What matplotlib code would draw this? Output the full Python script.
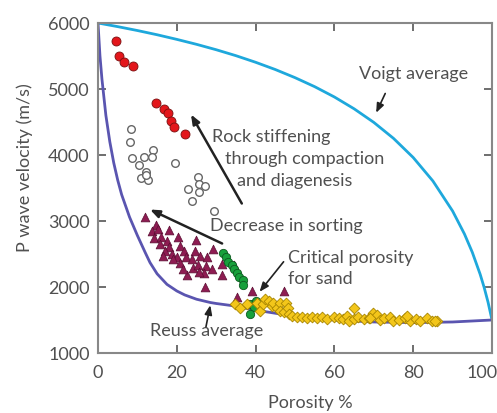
import matplotlib
matplotlib.use("Agg")
import matplotlib.pyplot as plt
from matplotlib.transforms import ScaledTranslation

plt.rcParams['font.family'] = ['Lato', 'DejaVu Sans']

# ---------------- data ----------------
voigt_phi = [0, 5, 10, 15, 20, 25, 30, 35, 40, 45, 50, 55, 60, 65, 70, 75, 80, 85, 90, 93, 95, 97, 98, 99, 100]
voigt_v = [6000, 5945, 5886, 5822, 5752, 5677, 5595, 5505, 5405, 5295, 5172, 5035, 4879, 4700, 4494,
           4252, 3962, 3606, 3151, 2804, 2526, 2192, 1995, 1769, 1500]

reuss_phi = [0, 0.5, 1, 2, 3, 4, 5, 6, 7, 8, 10, 12, 13.2, 15, 17.5, 20, 22, 25, 28.5, 30, 34,
             40, 50, 60, 70, 80, 90, 100]
reuss_v = [6000, 5500, 5150, 4600, 4200, 3880, 3620, 3400, 3230, 3060, 2780, 2520, 2370, 2200,
           2040, 1940, 1880, 1815, 1765, 1750, 1718, 1650, 1555, 1500, 1470, 1460, 1470, 1500]

red_phi = [4.5, 5.3, 6.6, 9.0, 14.7, 16.7, 17.8, 18.6, 19.3, 22.0]
red_v = [5727, 5495, 5409, 5344, 4788, 4697, 4632, 4515, 4420, 4323]

open_phi = [8.4, 8.1, 8.7, 10.4, 11.8, 13.9, 13.8, 12.1, 10.9, 12.8, 12.3, 19.6,
            25.5, 25.7, 27.2, 22.9, 25.7, 23.8, 29.5]
open_v = [4398, 4197, 3950, 3844, 3970, 4080, 3970, 3738, 3656, 3617, 3690, 3883,
          3662, 3561, 3526, 3485, 3435, 3308, 3156]

tri_phi = [11.9, 14.7, 13.6, 15.3, 17.9, 14.1, 15.9, 17.6, 20.4, 24.9, 29.3, 15.8, 18.1, 17.0,
           18.7, 20.8, 21.9, 22.4, 20.0, 20.8, 24.7, 25.9, 23.8, 24.2, 25.5, 27.4, 26.8, 22.7,
           28.9, 31.4, 31.4, 27.2, 34.4, 35.2, 39.1, 47.1, 16.6, 19.1, 21.5, 27.6, 25.7]
tri_v = [3064, 2942, 2852, 2876, 2861, 2750, 2761, 2700, 2761, 2709, 2583, 2648, 2609, 2548,
         2497, 2624, 2548, 2447, 2447, 2371, 2548, 2473, 2421, 2295, 2336, 2321, 2205, 2185,
         2270, 2345, 2185, 2003, 2330, 1852, 1942, 1942, 2473, 2421, 2270, 2447, 2220]

green_phi = [31.8, 32.5, 33.1, 34.0, 34.4, 35.2, 35.9, 36.7, 36.9, 38.6, 39.5, 38.5, 40.2]
green_v = [2508, 2447, 2386, 2336, 2270, 2205, 2155, 2103, 2033, 1750, 1690, 1590, 1790]

dia_phi = [34.8, 36.1, 37.8, 40.3, 41.2, 42.0, 42.4, 43.3, 44.1, 44.5, 45.4, 46.3, 46.3, 47.1,
           47.8, 48.1, 48.4, 49.2, 50.5, 51.8, 53.0, 54.3, 55.5, 56.8, 58.1, 59.8, 61.1, 62.3,
           63.2, 63.6, 64.9, 65.1, 66.1, 67.4, 68.7, 69.8, 70.8, 71.7, 72.7, 74.0, 75.0, 76.3,
           78.0, 79.3, 80.6, 81.8, 83.5, 84.8, 86.1, 69.1, 78.4, 85.6]
dia_v = [1739, 1689, 1739, 1765, 1639, 1739, 1815, 1791, 1715, 1765, 1689, 1765, 1639, 1614,
         1765, 1689, 1588, 1564, 1538, 1548, 1527, 1548, 1527, 1538, 1512, 1538, 1527, 1512,
         1564, 1488, 1679, 1512, 1548, 1512, 1523, 1606, 1576, 1505, 1526, 1541, 1490, 1505,
         1526, 1490, 1515, 1490, 1526, 1490, 1490, 1523, 1563, 1480]

x_ticks = [0, 20, 40, 60, 80, 100]
y_ticks = [1000, 2000, 3000, 4000, 5000, 6000]

# ---------------- figure ----------------
fig = plt.figure(figsize=(4.97, 4.14), dpi=100)
ax = fig.add_axes([98/497, 1-354/414, 394/497, 330/414])

TXT = '#505050'
FS = 13

ax.plot(voigt_phi, voigt_v, color='#1ea8dc', lw=2, zorder=2, solid_capstyle='butt')
ax.plot(reuss_phi, reuss_v, color='#5a55b0', lw=2, zorder=2)

ax.scatter(open_phi, open_v, s=30, facecolor='white', edgecolor='#666666', linewidths=1.0, zorder=3)
ax.scatter(red_phi, red_v, s=42, facecolor='#e3161b', edgecolor='#7a1010', linewidths=0.6, zorder=3)
ax.scatter(tri_phi, tri_v, s=40, marker='^', facecolor='#8e1c52', edgecolor='#5a0f33', linewidths=0.5, zorder=3)
ax.scatter(green_phi, green_v, s=36, facecolor='#17a03b', edgecolor='#0d5a20', linewidths=0.6, zorder=4)
ax.scatter(dia_phi, dia_v, s=30, marker='D', facecolor='#f3c61a', edgecolor='#a88600', linewidths=0.6, zorder=5)

ax.set_xlim(0, 100)
ax.set_ylim(1000, 6000)
ax.set_xticks(x_ticks)
ax.set_yticks(y_ticks)
ax.tick_params(direction='in', length=6, width=1.2, color='#555555', top=True, right=True,
               labelsize=FS, labelcolor=TXT)
ax.tick_params(axis='x', pad=8)
ax.tick_params(axis='y', pad=6)
for sp in ax.spines.values():
    sp.set_color('#888888')
    sp.set_linewidth(1.5)

# the last x tick label sits a little left of its tick, as in the original
last = ax.get_xticklabels()[-1]
last.set_transform(last.get_transform() + ScaledTranslation(-10/100, 0, fig.dpi_scale_trans))

fig.text(25/497, 1-168/414, 'P wave velocity (m/s)', rotation=90, ha='center', va='center',
         fontsize=FS, color=TXT)
fig.text(310/497, 1-403/414, 'Porosity %', ha='center', va='center', fontsize=FS, color=TXT)

# annotations
def arrow(tail, head, lw=1.5):
    ax.annotate('', xy=head, xytext=tail,
                arrowprops=dict(arrowstyle='-|>,head_length=0.55,head_width=0.22', color='#222222',
                                lw=lw, shrinkA=0, shrinkB=0), zorder=6)

ax.text(80.1, 5235, 'Voigt average', ha='center', va='center', fontsize=FS, color=TXT)
arrow((72.9, 4932), (70.6, 4640), lw=1.2)

ax.text(28.9, 4295, 'Rock stiffening', ha='left', va='center', fontsize=FS, color=TXT)
ax.text(32.3, 3947, 'through compaction', ha='left', va='center', fontsize=FS, color=TXT)
ax.text(35.2, 3618, 'and diagenesis', ha='left', va='center', fontsize=FS, color=TXT)
arrow((36.5, 3265), (23.6, 4614), lw=1.8)

ax.text(28.5, 2932, 'Decrease in sorting', ha='left', va='center', fontsize=FS, color=TXT)
arrow((31.5, 2659), (13.2, 3174), lw=1.8)

ax.text(48.1, 2447, 'Critical porosity', ha='left', va='center', fontsize=FS, color=TXT)
ax.text(48.1, 2129, 'for sand', ha='left', va='center', fontsize=FS, color=TXT)
arrow((47.1, 2382), (41.0, 1927), lw=1.2)

ax.text(13.2, 1341, 'Reuss average', ha='left', va='center', fontsize=FS, color=TXT)
arrow((27.4, 1397), (28.5, 1724), lw=1.2)

fig.savefig('out.png', dpi=100)
